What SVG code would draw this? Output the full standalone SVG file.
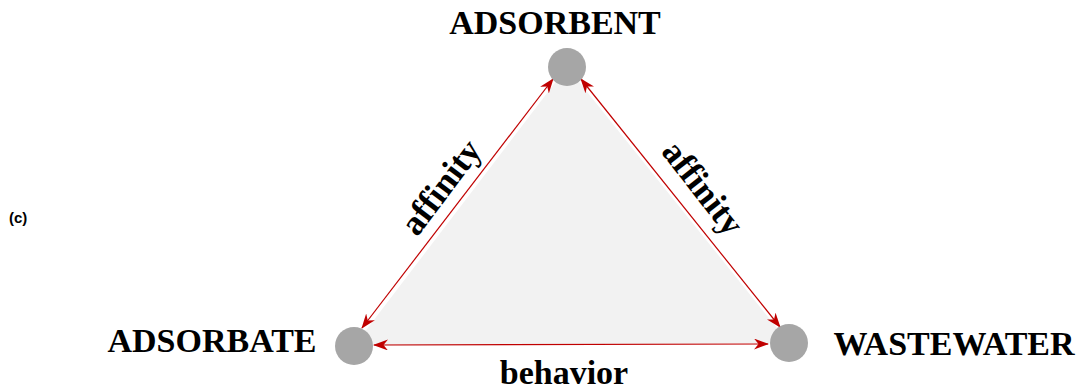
<svg xmlns="http://www.w3.org/2000/svg" width="1084" height="392" viewBox="0 0 1084 392">
<style>
.lbl{font-family:"Liberation Serif","Times New Roman",serif;font-weight:bold;font-size:34px;fill:#000}
.node{fill:#a6a6a6}
.conn{stroke:#c00000;stroke-width:1.2;fill:none;marker-start:url(#ah);marker-end:url(#ah)}
</style>
<defs>
<marker id="ah" viewBox="0 0 15 11" refX="14" refY="5.5" markerWidth="15" markerHeight="11" markerUnits="userSpaceOnUse" orient="auto-start-reverse">
<path d="M0,0 L15,5.5 L0,11 L4.5,5.5 Z" fill="#c00000"/>
</marker>
</defs>
<rect width="1084" height="392" fill="#fff"/>
<polygon points="567,67 354,346 789,343" fill="#f2f2f2"/>
<text x="9" y="223" style="font-family:'Liberation Sans',Arial,sans-serif;font-weight:bold;font-size:15px">(c)</text>
<g id="connectors">
<line class="conn" x1="362" y1="328" x2="553" y2="79"/>
<line class="conn" x1="581" y1="79" x2="780" y2="327"/>
<line class="conn" x1="374" y1="345" x2="768" y2="344"/>
</g>
<g id="adsorbent">
<circle class="node" cx="567" cy="67" r="19"/>
<text class="lbl" x="555" y="34" text-anchor="middle">ADSORBENT</text>
</g>
<g id="adsorbate">
<circle class="node" cx="354" cy="346" r="19"/>
<text class="lbl" x="212" y="352" text-anchor="middle">ADSORBATE</text>
</g>
<g id="wastewater">
<circle class="node" cx="789" cy="343" r="19"/>
<text class="lbl" x="954" y="355" text-anchor="middle">WASTEWATER</text>
</g>
<g id="labels">
<text class="lbl" style="font-size:35px" transform="translate(450,194) rotate(-53)" text-anchor="middle">affinity</text>
<text class="lbl" style="font-size:35px" transform="translate(694,195) rotate(52)" text-anchor="middle">affinity</text>
<text class="lbl" x="564" y="384" text-anchor="middle">behavior</text>
</g>
</svg>
